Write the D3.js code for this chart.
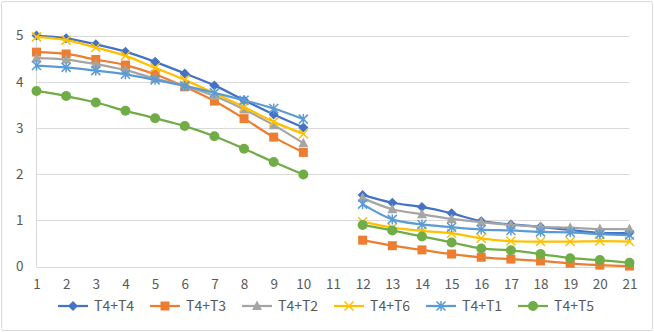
<!DOCTYPE html>
<html><head><meta charset="utf-8">
<script src="https://cdn.jsdelivr.net/npm/d3@7"></script>
<style>body{margin:0;background:#fff}svg{display:block}</style>
</head><body>
<svg id="c" width="654" height="332"></svg>
<script>
const categories = d3.range(1, 22);
const yTicks = [0, 1, 2, 3, 4, 5];
const seriesNames = ["T4+T4", "T4+T3", "T4+T2", "T4+T6", "T4+T1", "T4+T5"];
const seriesColors = ["#4472C4", "#ED7D31", "#A5A5A5", "#FFC000", "#5B9BD5", "#70AD47"];
const seriesMarkers = ["diamond", "square", "triangle", "x", "asterisk", "circle"];
const T4T4 = [5.00, 4.94, 4.81, 4.65, 4.43, 4.18, 3.92, 3.60, 3.29, 3.01, null, 1.55, 1.38, 1.29, 1.15, 0.98, 0.91, 0.86, 0.79, 0.73, 0.73];
const T4T3 = [4.64, 4.60, 4.48, 4.36, 4.16, 3.89, 3.58, 3.20, 2.80, 2.47, null, 0.57, 0.45, 0.36, 0.27, 0.20, 0.16, 0.12, 0.07, 0.03, 0.01];
const T4T2 = [4.51, 4.48, 4.38, 4.25, 4.07, 3.91, 3.69, 3.40, 3.06, 2.67, null, 1.48, 1.24, 1.13, 1.03, 0.96, 0.90, 0.86, 0.84, 0.81, 0.81];
const T4T6 = [4.97, 4.90, 4.74, 4.56, 4.30, 4.04, 3.75, 3.45, 3.13, 2.87, null, 0.97, 0.84, 0.77, 0.72, 0.61, 0.55, 0.54, 0.54, 0.55, 0.54];
const T4T1 = [4.35, 4.31, 4.24, 4.16, 4.04, 3.91, 3.76, 3.60, 3.42, 3.19, null, 1.35, 1.02, 0.91, 0.85, 0.80, 0.78, 0.75, 0.74, 0.70, 0.68];
const T4T5 = [3.80, 3.69, 3.55, 3.37, 3.21, 3.04, 2.82, 2.55, 2.26, 1.99, null, 0.90, 0.78, 0.65, 0.52, 0.39, 0.35, 0.27, 0.18, 0.14, 0.08];
const seriesValues = [T4T4, T4T3, T4T2, T4T6, T4T1, T4T5];

const font = "'Noto Sans CJK JP', 'Noto Sans', sans-serif";
const svg = d3.select("#c");
svg.append("rect").attr("x", 1.5).attr("y", 1.5).attr("width", 651).attr("height", 329)
  .attr("rx", 2).attr("fill", "#fff").attr("stroke", "#D9D9D9").attr("stroke-width", 1);

const x = d3.scaleLinear().domain([1, 21]).range([36.5, 629.5]);
const y = d3.scaleLinear().domain([0, 5]).range([266.5, 35.5]);

// gridlines
svg.append("g").selectAll("line").data(yTicks).join("line")
  .attr("x1", x(1)).attr("x2", x(21)).attr("y1", d => Math.round(y(d)) + 0.5).attr("y2", d => Math.round(y(d)) + 0.5)
  .attr("stroke", "#D9D9D9").attr("stroke-width", 1);
svg.append("line").attr("x1", 36.5).attr("x2", 36.5).attr("y1", y(5)).attr("y2", y(0))
  .attr("stroke", "#D9D9D9");

// y axis labels
const yAxis = d3.axisLeft(y).tickValues(yTicks).tickSize(0).tickPadding(13).tickFormat(d3.format("d"));
const gy = svg.append("g").attr("transform", "translate(36.5,0)").call(yAxis);
gy.select(".domain").remove();
gy.selectAll("text").attr("font-family", font).attr("font-size", 13.5).attr("fill", "#595959");

// x axis labels
const xAxis = d3.axisBottom(x).tickValues(categories).tickSize(0).tickPadding(13).tickFormat(d3.format("d"));
const gx = svg.append("g").attr("transform", `translate(0,${y(0)})`).call(xAxis);
gx.select(".domain").remove();
gx.selectAll("text").attr("font-family", font).attr("font-size", 13.5).attr("fill", "#595959");

function marker(g, type, color) {
  if (type === "diamond") g.append("path").attr("d", "M0,-5L5,0L0,5L-5,0Z").attr("fill", color);
  else if (type === "square") g.append("rect").attr("x", -4.5).attr("y", -4.5).attr("width", 9).attr("height", 9).attr("fill", color);
  else if (type === "triangle") g.append("path").attr("d", "M0,-5.5L5,4L-5,4Z").attr("fill", color);
  else if (type === "x") g.append("path").attr("d", "M-4.5,-4.5L4.5,4.5M-4.5,4.5L4.5,-4.5").attr("stroke", color).attr("stroke-width", 1.5);
  else if (type === "asterisk") g.append("path").attr("d", "M-4.5,-4.5L4.5,4.5M-4.5,4.5L4.5,-4.5M0,-5L0,5").attr("stroke", color).attr("stroke-width", 1.5);
  else if (type === "circle") g.append("circle").attr("r", 5).attr("fill", color);
}

const line = d3.line().defined(d => d[1] != null).x(d => x(d[0])).y(d => y(d[1])).curve(d3.curveCatmullRom.alpha(0.5));

seriesValues.forEach((vals, i) => {
  const pts = categories.map((c, j) => [c, vals[j]]);
  const g = svg.append("g");
  g.append("path").attr("d", line(pts)).attr("fill", "none").attr("stroke", seriesColors[i])
    .attr("stroke-width", 2.25).attr("stroke-linejoin", "round").attr("stroke-linecap", "round");
  pts.filter(p => p[1] != null).forEach(p => {
    const m = g.append("g").attr("transform", `translate(${x(p[0])},${y(p[1])})`);
    marker(m, seriesMarkers[i], seriesColors[i]);
  });
});

// legend
const legendX = [58, 150, 242, 334, 426, 518];
const lg = svg.append("g").attr("transform", "translate(0,306)");
seriesNames.forEach((n, i) => {
  const g = lg.append("g").attr("transform", `translate(${legendX[i]},0)`);
  g.append("line").attr("x1", 0).attr("x2", 30).attr("y1", 0).attr("y2", 0).attr("stroke", seriesColors[i]).attr("stroke-width", 2.25);
  const m = g.append("g").attr("transform", "translate(15,0)");
  marker(m, seriesMarkers[i], seriesColors[i]);
  g.append("text").attr("x", 36).attr("y", 0).attr("dy", "0.35em").text(n)
    .attr("font-family", font).attr("font-size", 14).attr("fill", "#595959");
});
</script>
</body></html>
